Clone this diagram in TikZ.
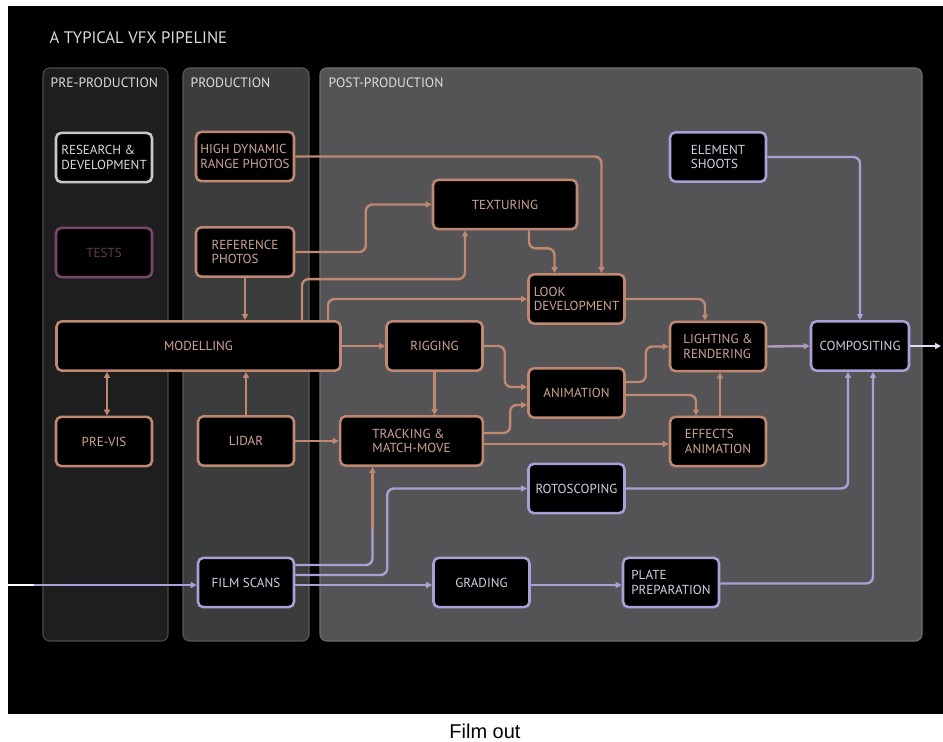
\documentclass[tikz,border=0pt]{standalone}
\usepackage{fontspec}
\setsansfont{PT Sans}
\newfontfamily\capfont{Liberation Sans}
\usepackage{tikz}
\usetikzlibrary{positioning,arrows.meta,calc}
\definecolor{vfxcopper}{RGB}{192,136,112}
\definecolor{vfxcutext}{RGB}{206,166,150}
\definecolor{vfxlav}{RGB}{172,158,214}
\definecolor{vfxlavtext}{RGB}{212,208,228}
\definecolor{vfxrd}{RGB}{200,200,200}
\definecolor{vfxrdtext}{RGB}{218,218,218}
\definecolor{vfxtest}{RGB}{122,72,108}
\definecolor{vfxtesttext}{RGB}{98,58,84}
\definecolor{vfxpre}{RGB}{30,30,30}
\definecolor{vfxprod}{RGB}{59,61,61}
\definecolor{vfxpost}{RGB}{84,84,87}
\definecolor{vfxhead}{RGB}{220,220,220}
\tikzset{
  stagebox/.style={fill=black, line width=1.9pt, rounded corners=4pt,
                   minimum width=72pt, minimum height=37pt, inner sep=2pt,
                   align=left, font=\fontsize{9.8}{11}\selectfont\sffamily},
  cubox/.style={stagebox, draw=vfxcopper, text=vfxcutext},
  lavbox/.style={stagebox, draw=vfxlav, text=vfxlavtext},
  rdbox/.style={stagebox, draw=vfxrd, text=vfxrdtext},
  testbox/.style={stagebox, draw=vfxtest, text=vfxtesttext},
  cuflow/.style={->, draw=vfxcopper, line width=1.8pt, rounded corners=5pt},
  lavflow/.style={cuflow, draw=vfxlav},
  panel/.style={rounded corners=5pt, line width=0.8pt},
  panelhead/.style={font=\fontsize{10.2}{12}\selectfont\sffamily, text=vfxhead, anchor=west},
}

\begin{document}
\begin{tikzpicture}[x=0.75pt, y=-0.75pt, >={Triangle[length=4.5pt,width=4.5pt]}]
\useasboundingbox (0,0) rectangle (943,742);
\fill[black] (8,6) rectangle (943,714);

% the three phases
\draw[panel, fill=vfxpre, draw=vfxpre!80!white] (43,68) rectangle (168,641);
\draw[panel, fill=vfxprod, draw=vfxprod!85!white] (183,68) rectangle (309,641);
\draw[panel, fill=vfxpost, draw=vfxpost!85!white] (320,68) rectangle (922,641);
\node[font=\fontsize{12.5}{14}\selectfont\sffamily, text=vfxhead, anchor=west] (title) at (45,38) {A TYPICAL VFX PIPELINE};
\node[panelhead] (hpre) at (46,83) {PRE-PRODUCTION};
\node[panelhead] (hprod) at (186,83) {PRODUCTION};
\node[panelhead] (hpost) at (324,83) {POST-PRODUCTION};

% pre-production
\node[rdbox] (rnd) at (104,157.5) {RESEARCH \&\\DEVELOPMENT};
\node[testbox] (tests) at (104,252.5) {TESTS};
\node[cubox, minimum width=213pt] (model) at (198.5,346) {MODELLING};
\node[cubox] (previs) at (104,441.5) {PRE-VIS};

% production
\node[cubox, minimum width=73.5pt] (hdr) at (245,156.5) {HIGH DYNAMIC\\RANGE PHOTOS};
\node[cubox, minimum width=73.5pt] (refp) at (245,252) {REFERENCE\\PHOTOS};
\node[cubox] (lidar) at (246,441) {LIDAR};
\node[lavbox] (scans) at (246,582.5) {FILM SCANS};

% post-production
\node[cubox, minimum width=108pt] (tex) at (505,204.5) {TEXTURING};
\node[cubox] (look) at (576.5,299) {LOOK\\DEVELOPMENT};
\node[cubox] (rig) at (434.5,346) {RIGGING};
\node[cubox, minimum width=107pt] (track) at (411.5,441) {TRACKING \&\\MATCH-MOVE};
\node[cubox] (anim) at (576.5,393) {ANIMATION};
\node[cubox] (light) at (718,346.5) {LIGHTING \&\\RENDERING};
\node[cubox] (fx) at (718,441.5) {EFFECTS\\ANIMATION};
\node[lavbox] (elem) at (718,157) {ELEMENT\\SHOOTS};
\node[lavbox, minimum width=73.5pt] (comp) at (860,346) {COMPOSITING};
\node[lavbox] (roto) at (576.5,488.5) {ROTOSCOPING};
\node[lavbox] (grade) at (481.5,582.5) {GRADING};
\node[lavbox] (plate) at (671,582.5) {PLATE\\PREPARATION};
\coordinate (filmin) at (8,585);
\coordinate (filmend) at (941,346);

% copper flows
\draw[cuflow] (hdr.east) -| ($(look.north)+(25,0)$);
\draw[cuflow] (refp.east) -| ($(tex.west)+(-66,0)$) -- (tex.west);
\draw[cuflow] (refp.south) -- (refp.south |- model.north);
\draw[cuflow] ($(model.north)+(103.5,0)$) -- ++(0,-41) -| ($(tex.south)+(-40,0)$);
\draw[cuflow] ($(model.north)+(129.5,0)$) |- (look.west);
\draw[cuflow] ($(tex.south)+(24,0)$) -- ++(0,18) -| ($(look.north)+(-22,0)$);
\draw[cuflow] (look.east) -| ($(light.north)+(-13,0)$);
\draw[cuflow] (model.east) -- (rig.west);
\draw[cuflow] (rig.south) -- (rig.south |- track.north);
\draw[cuflow] (rig.east) -- ++(21,0) |- ($(anim.west)+(0,-6)$);
\draw[cuflow] ($(track.east)+(0,-8)$) -- ++(26,0) |- ($(anim.west)+(0,12)$);
\draw[cuflow] ($(track.east)+(0,3)$) -- ($(fx.west)+(0,2.5)$);
\draw[cuflow] ($(anim.east)+(0,-11)$) -- ++(20,0) |- (light.west);
\draw[cuflow] ($(anim.east)+(0,2)$) -| ($(fx.north)+(-22,0)$);
\draw[cuflow] ($(fx.north)+(2,0)$) -- ($(light.south)+(2,0)$);
\draw[cuflow] (lidar.north) -- (lidar.north |- model.south);
\draw[cuflow, <->] ($(previs.north)+(3,0)$) -- ($(model.south)+(-91.5,0)$);
\draw[cuflow] (lidar.east) -- (track.west);

% plates and comp
\draw[lavflow, -] ($(scans.east)+(0,-17.5)$) -| ($(track.south)+(-39,62)$);
\draw[cuflow] ($(track.south)+(-39,62)$) -- ($(track.south)+(-39,0)$);
\draw[lavflow] ($(scans.east)+(0,-7.5)$) -| ($(roto.west)+(-140,0)$) -- (roto.west);
\draw[lavflow] ($(scans.east)+(0,2.5)$) -- ($(grade.west)+(0,2.5)$);
\draw[lavflow] ($(grade.east)+(0,2.5)$) -- ($(plate.west)+(0,2.5)$);
\draw[lavflow] ($(plate.east)+(0,1)$) -| ($(comp.south)+(13,0)$);
\draw[lavflow] (roto.east) -| ($(comp.south)+(-12,0)$);
\draw[lavflow] (elem.east) -| (comp.north);
\draw[lavflow, draw=vfxlav!75!vfxcopper] (light.east) -- (comp.west);
\draw[lavflow, draw=vfxlav!35!white] (comp.east) -- (filmend);
\draw[lavflow] (filmin) -- ($(scans.west)+(0,2.5)$);
\draw[white, line width=1.8pt] (filmin) -- ++(26,0);

\node[font=\fontsize{15}{16}\selectfont\capfont, text=black, inner sep=0pt] (filmout) at (485,731) {Film out};
\end{tikzpicture}
\end{document}
